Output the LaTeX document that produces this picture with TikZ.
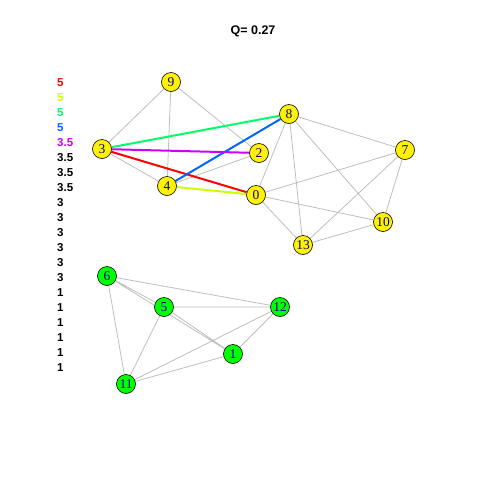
\documentclass[tikz,border=0pt]{standalone}
\usepackage{fontspec}
\setmainfont{Liberation Serif}
\newfontfamily\lsans{Liberation Sans}
\usetikzlibrary{backgrounds}
\definecolor{rA}{HTML}{FF0000}
\definecolor{rB}{HTML}{CCFF00}
\definecolor{rC}{HTML}{00FF66}
\definecolor{rD}{HTML}{0066FF}
\definecolor{rE}{HTML}{CC00FF}
\definecolor{edgegray}{HTML}{BEBEBE}
\definecolor{labblue}{HTML}{00008B}
\tikzset{
  vtx/.style={circle,draw=black,line width=0.6pt,minimum size=19pt,inner sep=0pt,
    text=labblue,font=\fontsize{13.5}{13.5}\selectfont},
  yv/.style={vtx,fill=yellow},
  gv/.style={vtx,fill=green},
  ge/.style={draw=edgegray,line width=0.8pt},
  ce/.style={line width=2pt},
  leg/.style={anchor=west,inner sep=0pt,font=\lsans\bfseries\fontsize{11.5}{11.5}\selectfont},
}
\begin{document}
\begin{tikzpicture}[x=1pt,y=-1pt]
\useasboundingbox (0,0) rectangle (480,480);
\node[font=\lsans\bfseries\fontsize{12.5}{12.5}\selectfont] (title) at (253,31) {Q= 0.27};
% legend
\node[leg,text=rA] (l1) at (57,82.5) {5};
\node[leg,text=rB] (l2) at (57,97.5) {5};
\node[leg,text=rC] (l3) at (57,112.5) {5};
\node[leg,text=rD] (l4) at (57,127.5) {5};
\node[leg,text=rE] (l5) at (57,142.5) {3.5};
\node[leg] (l6) at (57,157.5) {3.5};
\node[leg] (l7) at (57,172.5) {3.5};
\node[leg] (l8) at (57,187.5) {3.5};
\node[leg] (l9) at (57,202.5) {3};
\node[leg] (l10) at (57,217.5) {3};
\node[leg] (l11) at (57,232.5) {3};
\node[leg] (l12) at (57,247.5) {3};
\node[leg] (l13) at (57,262.5) {3};
\node[leg] (l14) at (57,277.5) {3};
\node[leg] (l15) at (57,292.5) {1};
\node[leg] (l16) at (57,307.5) {1};
\node[leg] (l17) at (57,322.5) {1};
\node[leg] (l18) at (57,337.5) {1};
\node[leg] (l19) at (57,352.5) {1};
\node[leg] (l20) at (57,367.5) {1};
% vertices
\node[yv] (n9) at (171,82) {9};
\node[yv] (n8) at (289,114) {8};
\node[yv] (n3) at (102,149) {3};
\node[yv] (n2) at (259,153) {2};
\node[yv] (n7) at (405,150) {7};
\node[yv] (n4) at (167,186) {4};
\node[yv] (n0) at (256,195) {0};
\node[yv] (n10) at (383,222) {10};
\node[yv] (n13) at (303,245) {13};
\node[gv] (n6) at (107,276) {6};
\node[gv] (n5) at (164,307) {5};
\node[gv] (n12) at (280,307) {12};
\node[gv] (n1) at (233,354) {1};
\node[gv] (n11) at (126,384) {11};
\begin{scope}[on background layer]
\draw[ge] (n9)--(n3) (n9)--(n4) (n9)--(n2) (n3)--(n4) (n4)--(n2)
  (n8)--(n0) (n8)--(n13) (n8)--(n10) (n8)--(n7)
  (n0)--(n7) (n0)--(n10) (n0)--(n13) (n7)--(n13) (n7)--(n10) (n10)--(n13);
\draw[ge] (n6)--(n5) (n6)--(n1) (n6)--(n12) (n6)--(n11) (n5)--(n12) (n5)--(n1)
  (n5)--(n11) (n1)--(n11) (n12)--(n11) (n12)--(n1);
\draw[ce,rA] (n3)--(n0);
\draw[ce,rB] (n4)--(n0);
\draw[ce,rC] (n3)--(n8);
\draw[ce,rD] (n4)--(n8);
\draw[ce,rE] (n3)--(n2);
\end{scope}
\end{tikzpicture}
\end{document}
